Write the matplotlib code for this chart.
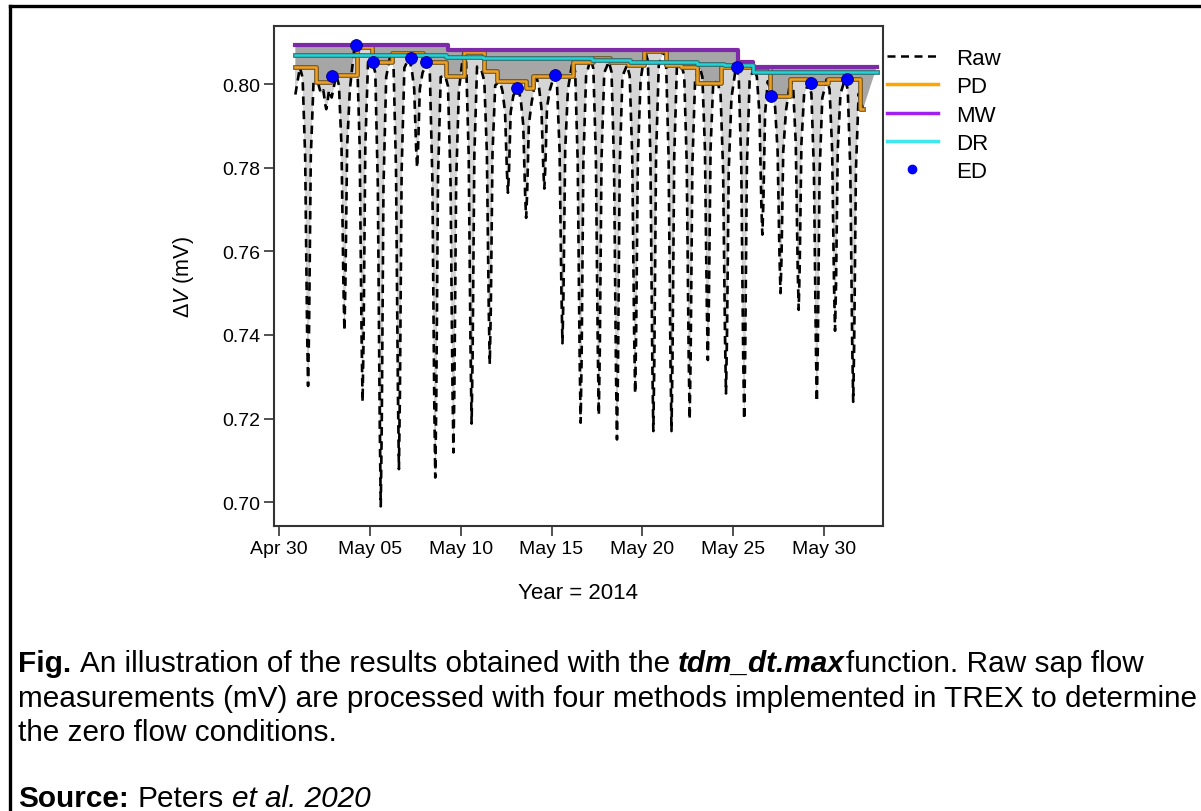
import numpy as np
import matplotlib
matplotlib.use('Agg')
import matplotlib.pyplot as plt
import matplotlib.dates as mdates
import matplotlib.patheffects as pe
from matplotlib.lines import Line2D
from matplotlib.patches import Polygon
from datetime import datetime

plt.rcParams['font.family'] = ['Liberation Sans', 'DejaVu Sans']
plt.rcParams['mathtext.fontset'] = 'custom'
plt.rcParams['mathtext.rm'] = 'Liberation Sans'
plt.rcParams['mathtext.it'] = 'Liberation Sans:italic'

W, H = 1201, 812
START = datetime(2014, 4, 30)

# all times are days since Apr 30 00:00
may_days = list(range(1, 32))
night_max = [0.8040, 0.8003, 0.8022, 0.8088, 0.8052, 0.8074, 0.8062, 0.8052, 0.8020, 0.8077,
             0.8032, 0.8008, 0.7990, 0.8020, 0.8022, 0.8054, 0.8062, 0.8054, 0.8045, 0.8080,
             0.8080, 0.8045, 0.8042, 0.8002, 0.8042, 0.8042, 0.7971, 0.8012, 0.8002, 0.8012,
             0.8012]
day_min = [0.7278, 0.7940, 0.7410, 0.7240, 0.6990, 0.7079, 0.7800, 0.7059, 0.7119, 0.7188,
           0.7330, 0.7740, 0.7680, 0.7750, 0.7380, 0.7190, 0.7208, 0.7150, 0.7260, 0.7170,
           0.7170, 0.7198, 0.7340, 0.7260, 0.7198, 0.7640, 0.7500, 0.7460, 0.7240, 0.7410,
           0.7240]
raw_first = (0.90, 0.7975)
raw_last = (32.14, 0.7940)

pd_t = [0.90, 2.03, 2.86, 4.27, 5.10, 6.20, 7.90, 9.20, 10.20, 11.30, 12.00, 13.60, 14.00,
        16.20, 17.30, 18.20, 19.20, 20.10, 21.30, 22.10, 23.00, 24.30, 27.00, 28.10, 29.20,
        30.20, 31.98]
pd_v = [0.8041, 0.8004, 0.8022, 0.8088, 0.8052, 0.8074, 0.8052, 0.8020, 0.8077, 0.8032,
        0.8008, 0.7990, 0.8020, 0.8054, 0.8062, 0.8054, 0.8045, 0.8080, 0.8045, 0.8042,
        0.8002, 0.8042, 0.7971, 0.8012, 0.8002, 0.8012, 0.7940]

mw_t = [0.90, 9.30, 25.26, 26.10]
mw_v = [0.8093, 0.8082, 0.8052, 0.8042]

dr_t = [0.90, 9.20, 11.25, 17.20, 19.30, 23.00, 24.50, 26.10]
dr_v = [0.8069, 0.8065, 0.8062, 0.8057, 0.8053, 0.8049, 0.8045, 0.8028]
line_end = 32.90

ed_t = [2.92, 4.25, 5.19, 7.25, 8.07, 13.08, 15.19, 25.19, 27.08, 29.26, 31.24]
ed_v = [0.8020, 0.8093, 0.8052, 0.8062, 0.8052, 0.7990, 0.8022, 0.8042, 0.7971, 0.8002, 0.8012]


def step_xy(t, v, end):
    xs = np.repeat(np.r_[t, end], 2)[1:-1]
    ys = np.repeat(v, 2)
    return xs, ys


# raw signal: night maximum, then the daytime drop to the daily minimum
rt, rv = [raw_first[0]], [raw_first[1]]
for d, hi, lo in zip(may_days, night_max, day_min):
    depth = hi - lo
    rt += [d + 0.15, d + 0.30, d + 0.44, d + 0.545, d + 0.60, d + 0.655, d + 0.75, d + 0.90]
    rv += [hi, hi - 0.0025, hi - 0.28 * depth, hi - 0.82 * depth, lo,
           hi - 0.82 * depth, hi - 0.28 * depth, hi - 0.0035]
rt.append(raw_last[0])
rv.append(raw_last[1])
rt, rv = np.array(rt), np.array(rv)

base = mdates.date2num(START)
to_num = lambda days: base + np.asarray(days, dtype=float)

fig = plt.figure(figsize=(W / 100, H / 100), dpi=100)
ax = fig.add_axes([274 / W, (H - 527) / H, 609 / W, 500 / H])

pd_x, pd_y = step_xy(pd_t, pd_v, raw_last[0])
mw_x, mw_y = step_xy(mw_t, mw_v, line_end)
dr_x, dr_y = step_xy(dr_t, dr_v, line_end)

# shaded areas between the zero-flow lines and the raw signal
dark = Polygon(np.c_[to_num(np.r_[mw_x, rt[::-1]]), np.r_[mw_y, rv[::-1]]],
               closed=True, facecolor='#a6a6a6', edgecolor='none', zorder=1)
light = Polygon(np.c_[to_num(np.r_[pd_x, rt[::-1]]), np.r_[pd_y, rv[::-1]]],
                closed=True, facecolor='#d6d6d6', edgecolor='none', zorder=2)
ax.add_patch(dark)
ax.add_patch(light)

ax.plot(to_num(rt), rv, color='black', lw=1.9, ls=(0, (3.2, 2.2)), zorder=3)
ax.plot(to_num(pd_x), pd_y, color='#f0a020', lw=1.8, zorder=4,
        path_effects=[pe.Stroke(linewidth=3.4, foreground='#6e5222'), pe.Normal()])
ax.plot(to_num(mw_x), mw_y, color='#7d2aa8', lw=3.0, zorder=5)
ax.plot(to_num(dr_x), dr_y, color='#22d4d8', lw=1.8, zorder=5,
        path_effects=[pe.Stroke(linewidth=3.4, foreground='#2e6d6d'), pe.Normal()])
ax.plot(to_num(ed_t), ed_v, 'o', color='#0000ff', ms=8.5, mec='#000080', mew=0.6, zorder=6)

ax.set_xlim(base - 0.275, base + 33.24)
ax.set_ylim(0.6943, 0.8139)
ticks = [datetime(2014, 4, 30), datetime(2014, 5, 5), datetime(2014, 5, 10), datetime(2014, 5, 15),
         datetime(2014, 5, 20), datetime(2014, 5, 25), datetime(2014, 5, 30)]
ax.set_xticks(mdates.date2num(ticks))
ax.xaxis.set_major_formatter(mdates.DateFormatter('%b %d'))
ax.set_yticks(np.arange(0.70, 0.8001, 0.02))
ax.yaxis.set_major_formatter(plt.FormatStrFormatter('%.2f'))
ax.tick_params(length=7, width=1.2, color='#333333', labelsize=14, pad=3)
for s in ax.spines.values():
    s.set_linewidth(1.5)
    s.set_color('#333333')
ax.set_xlabel('Year = 2014', fontsize=16, labelpad=18)
ax.set_ylabel(r'$\Delta V$ (mV)', fontsize=15.5, labelpad=19)

handles = [Line2D([], [], color='black', lw=1.8, ls=(0, (3.2, 2.2))),
           Line2D([], [], color='#ffa500', lw=2.5),
           Line2D([], [], color='#a020f0', lw=2.5),
           Line2D([], [], color='#3fe8f0', lw=2.5),
           Line2D([], [], color='#0000ff', marker='o', ls='none', ms=6)]
fig.legend(handles, ['Raw', 'PD', 'MW', 'DR', 'ED'], loc='upper left',
           bbox_to_anchor=(878 / W, 1 - 40 / H), frameon=False, fontsize=16,
           handlelength=2.3, handletextpad=0.8, labelspacing=0.33, borderaxespad=0)

# figure frame
fig.add_artist(Line2D([9.5 / W, 9.5 / W], [0, 1 - 6.5 / H], color='black', lw=2.4))
fig.add_artist(Line2D([9.5 / W, 1], [1 - 6.5 / H, 1 - 6.5 / H], color='black', lw=2.4))


def text_runs(x, y, runs, size):
    renderer = fig.canvas.get_renderer()
    for s, weight, style, gap in runs:
        t = fig.text(x / W, 1 - y / H, s, fontsize=size, fontweight=weight,
                     fontstyle=style, va='baseline', ha='left')
        bb = t.get_window_extent(renderer)
        x = bb.x1 + size * 100 / 72 * gap


cap = 21.4
text_runs(18, 672, [('Fig.', 'bold', 'normal', 0.28),
                    ('An illustration of the results obtained with the', 'normal', 'normal', 0.28),
                    ('tdm_dt.max', 'bold', 'italic', 0.05),
                    ('function. Raw sap flow', 'normal', 'normal', 0)], cap)
text_runs(18, 707, [('measurements (mV) are processed with four methods implemented in TREX to determine',
                     'normal', 'normal', 0)], cap)
text_runs(18, 741, [('the zero flow conditions.', 'normal', 'normal', 0)], cap)
text_runs(18, 807, [('Source:', 'bold', 'normal', 0.28), ('Peters', 'normal', 'normal', 0.28),
                    ('et al. 2020', 'normal', 'italic', 0)], cap)

fig.savefig('out.png', dpi=100)
